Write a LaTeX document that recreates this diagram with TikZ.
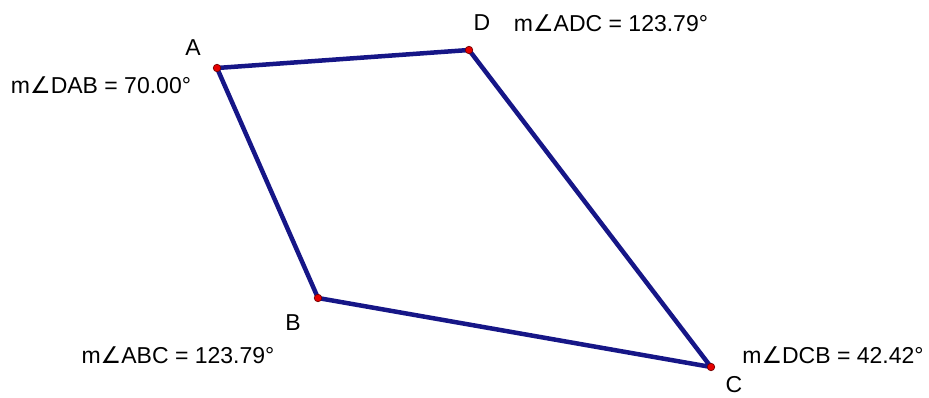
\documentclass[tikz,border=0pt]{standalone}
\usepackage{fontspec}
\setmainfont{Liberation Sans}
\newfontfamily\anglefont{DejaVu Sans}
\usepackage{tikz}
\usetikzlibrary{positioning}
\definecolor{edgeblue}{RGB}{22,22,135}
\definecolor{dotred}{RGB}{230,0,0}
\newcommand{\MeasAngle}[1]{m{\anglefont ∠}#1}

\begin{document}
\begin{tikzpicture}[x=1pt, y=-1pt,
  side/.style={draw=edgeblue, line width=4.5pt, line join=round, line cap=round},
  vertex/.style={circle, fill=dotred, draw=red!45!black, line width=0.7pt, inner sep=0pt, minimum size=7.5pt},
  lbl/.style={font=\fontsize{23}{27}\selectfont, inner sep=0pt}
]
\useasboundingbox (0,0) rectangle (929,398);
% vertices of the quadrilateral
\coordinate (A) at (217,68);
\coordinate (D) at (469,50);
\coordinate (C) at (711,367);
\coordinate (B) at (318,298);
\draw[side] (A) -- (D) -- (C) -- (B) -- cycle;
\foreach \v in {A,B,C,D}
  \node[vertex] (dot\v) at (\v) {};
% point names
\node[lbl] (nameA) at (193,48) {A};
\node[lbl] (nameD) at (482,23) {D};
\node[lbl] (nameB) at (293,323) {B};
\node[lbl] (nameC) at (734,385) {C};
% angle measures
\node[lbl] (angA) at (101,85) {\MeasAngle{DAB} = 70.00°};
\node[lbl] (angD) at (611,23) {\MeasAngle{ADC} = 123.79°};
\node[lbl] (angB) at (178,355) {\MeasAngle{ABC} = 123.79°};
\node[lbl] (angC) at (833,355) {\MeasAngle{DCB} = 42.42°};
\end{tikzpicture}
\end{document}
